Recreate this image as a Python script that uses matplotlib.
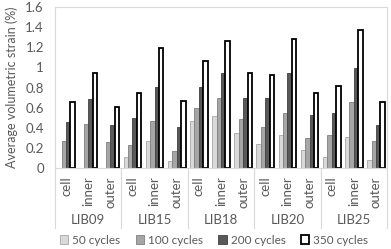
import numpy as np
import matplotlib
matplotlib.use('Agg')
import matplotlib.pyplot as plt
import matplotlib.transforms as mtransforms

# Data
groups = ['LIB09', 'LIB15', 'LIB18', 'LIB20', 'LIB25']
parts = ['cell', 'inner', 'outer']
series_names = ['50 cycles', '100 cycles', '200 cycles', '350 cycles']

cycles_50 = [np.nan, np.nan, np.nan, 0.11, 0.27, 0.07, 0.47, 0.52, 0.35, 0.24, 0.33, 0.18, 0.11, 0.31, 0.08]
cycles_100 = [0.27, 0.44, 0.26, 0.23, 0.47, 0.17, 0.60, 0.70, 0.49, 0.41, 0.55, 0.30, 0.33, 0.66, 0.27]
cycles_200 = [0.46, 0.69, 0.43, 0.50, 0.81, 0.41, 0.81, 0.95, 0.70, 0.70, 0.95, 0.53, 0.55, 0.99, 0.43]
cycles_350 = [0.66, 0.95, 0.61, 0.75, 1.19, 0.67, 1.06, 1.26, 0.95, 0.93, 1.28, 0.75, 0.82, 1.37, 0.66]

all_series = [cycles_50, cycles_100, cycles_200, cycles_350]
face_colors = ['#d9d9d9', '#a6a6a6', '#595959', '#ffffff']
edge_colors = ['#a6a6a6', '#7f7f7f', '#404040', '#000000']
edge_widths = [0.6, 0.6, 0.6, 1.3]

text_color = '#595959'
grid_color = '#d9d9d9'
plt.rcParams['font.family'] = ['Lato', 'DejaVu Sans']
plt.rcParams['font.size'] = 9.5

fig = plt.figure(figsize=(3.91, 2.49), dpi=100)
ax = fig.add_axes([55 / 391, 1 - 168.3 / 249, 332 / 391, 161.3 / 249])

n_cat = len(groups) * len(parts)
x = np.arange(n_cat)
bar_w = 0.2
for i, vals in enumerate(all_series):
    ax.bar(x + (i - 1.5) * bar_w, vals, width=bar_w, color=face_colors[i],
           edgecolor=edge_colors[i], linewidth=edge_widths[i], label=series_names[i])

ax.set_xlim(-0.5, n_cat - 0.5)
ax.set_ylim(0, 1.6)
ax.set_yticks(np.arange(0, 1.61, 0.2))
ax.set_yticklabels(['0', '0.2', '0.4', '0.6', '0.8', '1', '1.2', '1.4', '1.6'], color=text_color)
ax.set_xticks(x)
ax.set_xticklabels(parts * len(groups), rotation=90, va='top', color=text_color)
ax.tick_params(axis='both', length=0)
ax.tick_params(axis='x', pad=6)
ax.tick_params(axis='y', pad=8)
ax.set_ylabel('Average volumetric strain (%)', color=text_color, labelpad=5, fontsize=9)

for s in ax.spines.values():
    s.set_color(grid_color)
    s.set_linewidth(0.8)

# group separators and labels under the axis
trans = mtransforms.blended_transform_factory(ax.transData, ax.transAxes)
for b in np.arange(-0.5, n_cat, 3):
    ax.plot([b, b], [0, -0.37], color=grid_color, lw=0.8, transform=trans, clip_on=False)
for g, name in enumerate(groups):
    ax.text(g * 3 + 1, -0.32, name, transform=trans, ha='center', va='center',
            color=text_color, fontsize=9.5)

fig.legend(loc='center', bbox_to_anchor=(214 / 391, 1 - 240 / 249), ncol=4, frameon=False,
           handlelength=0.7, handleheight=0.7, handletextpad=0.35, columnspacing=1.3,
           labelcolor=text_color, fontsize=8.5)

fig.savefig('out.png', dpi=100)
